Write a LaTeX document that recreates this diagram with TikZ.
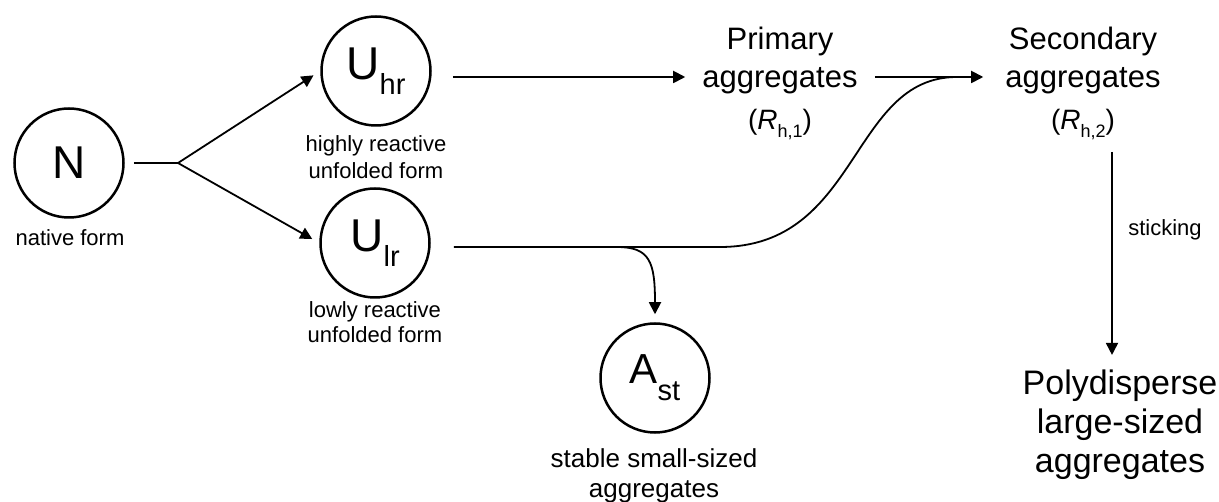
\documentclass[tikz,border=0pt]{standalone}
\usepackage{fontspec}
\setmainfont{Liberation Sans}
\usetikzlibrary{arrows.meta}

% big letter with a lowered subscript, as used inside the state circles
\newcommand\statelbl[4]{{\fontsize{#3}{#3}\selectfont #1}\raisebox{-#4}{\fontsize{29}{29}\selectfont #2}}
% italic R with the h,i subscript
\newcommand\radius[1]{(\textit{R}\raisebox{-8pt}{\fontsize{18}{18}\selectfont h,#1})}

\begin{document}
\begin{tikzpicture}[x=1pt,y=-1pt,
  state/.style={draw, circle, minimum size=109pt, inner sep=0pt, line width=2.5pt},
  small/.style={inner sep=0pt, align=center, font=\fontsize{22}{26}\selectfont},
  big/.style={inner sep=0pt, align=center, font=\fontsize{31}{38}\selectfont},
  line/.style={line width=1.8pt},
  conn/.style={line width=1.8pt, -{Triangle[length=12pt,width=12pt]}},
  ]
\useasboundingbox (0,0) rectangle (1219,502);

% states
\node[state] (N)   at (69,163)  {\fontsize{46}{46}\selectfont N};
\node[state] (Uhr) at (376,71)  {\statelbl{U}{hr}{46}{15pt}};
\node[state] (Ulr) at (375,243) {\statelbl{U}{lr}{46}{15pt}};
\node[state] (Ast) at (655,378) {\statelbl{A}{st}{42}{17pt}};

% captions of the states
\node[small] (Ncap)   at (70,238)  {native form};
\node[small] (Uhrcap) at (376,157) {highly reactive\\[1pt]unfolded form};
\node[small] (Ulrcap) at (375,322) {lowly reactive\\[-1pt]unfolded form};
\node[inner sep=0pt, align=center, font=\fontsize{26}{30}\selectfont] (Astcap) at (654,476)
  {stable small-sized\\aggregates};

% aggregate species
\node[big] (Prim) at (780,83)  {Primary\\aggregates\\[4pt]{\fontsize{28}{28}\selectfont\radius{1}}};
\node[big] (Sec)  at (1083,83) {Secondary\\aggregates\\[4pt]{\fontsize{28}{28}\selectfont\radius{2}}};
\node[inner sep=0pt, align=center, font=\fontsize{34}{39}\selectfont] (Poly) at (1120,425)
  {Polydisperse\\large-sized\\aggregates};
\node[small] (stick) at (1165,230) {sticking};

% helper points of the connectors
\coordinate (br)    at (178,163);
\coordinate (a1)    at ([yshift=-6pt]Uhr.east);
\coordinate (lo)    at ([yshift=-4pt]Ulr.east);
\coordinate (split) at (617,247);
\coordinate (bend)  at (720,247);
\coordinate (merge) at (957,77);
\coordinate (s1)    at (1112,152);

% unfolding of the native form
\draw[line, shorten <=9pt] (N.east) -- (br);
\draw[conn, shorten >=8pt] (br) -- (Uhr.west);
\draw[conn, shorten >=8pt] (br) -- (Ulr.west);

% aggregation pathways
\draw[conn, shorten <=21pt, shorten >=17pt] (a1) -- (a1 -| Prim.west);
\draw[conn, shorten <=17pt, shorten >=22pt] (Prim.east |- a1) -- (Sec.west |- a1);
\draw[line, shorten <=23pt] (lo) -- (bend) .. controls (860,247) and (850,77) .. (merge);
\draw[conn, shorten >=8pt] (split) .. controls (650,247) and (Ast.north |- 0,262) .. (Ast.north);
\draw[conn, shorten >=15pt] (s1) -- (s1 |- Poly.north);
\end{tikzpicture}
\end{document}
